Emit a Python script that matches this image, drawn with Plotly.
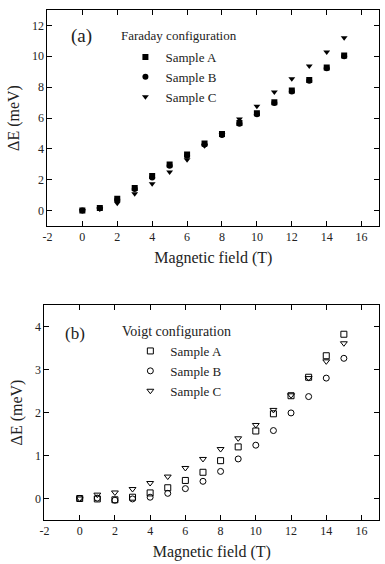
import plotly.graph_objects as go

field = list(range(16))

# Faraday configuration (meV)
far_A = [0.0, 0.17, 0.76, 1.46, 2.24, 2.98, 3.63, 4.35, 4.96, 5.68, 6.30, 7.02, 7.78, 8.46, 9.28, 10.05]
far_B = [0.0, 0.15, 0.70, 1.40, 2.15, 2.90, 3.55, 4.28, 4.90, 5.62, 6.25, 6.98, 7.72, 8.42, 9.22, 10.00]
far_C = [0.0, 0.10, 0.48, 1.09, 1.74, 2.50, 3.30, 4.20, 4.90, 5.93, 6.76, 7.68, 8.54, 9.37, 10.28, 11.20]

# Voigt configuration (meV)
voi_A = [0.0, -0.01, -0.03, 0.03, 0.13, 0.25, 0.42, 0.61, 0.88, 1.20, 1.57, 1.97, 2.39, 2.82, 3.32, 3.82]
voi_B = [0.0, 0.01, -0.04, -0.01, 0.03, 0.12, 0.23, 0.40, 0.63, 0.92, 1.24, 1.58, 1.99, 2.37, 2.80, 3.26]
voi_C = [0.0, 0.09, 0.14, 0.22, 0.36, 0.51, 0.71, 0.92, 1.15, 1.40, 1.71, 2.06, 2.40, 2.80, 3.19, 3.61]

samples = ["Sample A", "Sample B", "Sample C"]
x_ticks = [-2, 0, 2, 4, 6, 8, 10, 12, 14, 16]
x_labels = ["-2", "0", "2", "4", "6", "8", "10", "12", "14", "16"]
y_ticks_top = [0, 2, 4, 6, 8, 10, 12]
y_ticks_bot = [0, 1, 2, 3, 4]

FONT = "Times New Roman, Liberation Serif, DejaVu Serif, serif"
W, H = 385, 564

fig = go.Figure()

top_sym = ["square", "circle", "triangle-down"]
bot_sym = ["square-open", "circle-open", "triangle-down-open"]

for name, vals, sym in zip(samples, [far_A, far_B, far_C], top_sym):
    fig.add_trace(go.Scatter(x=field, y=vals, mode="markers", name=name,
                             marker=dict(symbol=sym, size=6, color="black"),
                             xaxis="x", yaxis="y", legend="legend"))

for name, vals, sym in zip(samples, [voi_A, voi_B, voi_C], bot_sym):
    fig.add_trace(go.Scatter(x=field, y=vals, mode="markers", name=name,
                             marker=dict(symbol=sym, size=6, color="black",
                                         line=dict(width=1, color="black")),
                             xaxis="x2", yaxis="y2", legend="legend2"))

def xa(domain, anchor):
    return dict(domain=domain, anchor=anchor, range=[-2, 17], tickvals=x_ticks, ticktext=x_labels,
                ticks="inside", ticklen=5, tickcolor="black", showline=True,
                linecolor="black", linewidth=1, mirror="allticks", showgrid=False,
                zeroline=False, tickfont=dict(family=FONT, size=12, color="#222"),
                title=dict(text="Magnetic field (T)", font=dict(family=FONT, size=16, color="#222"),
                           standoff=8))

def ya(domain, anchor, rng, ticks):
    return dict(domain=domain, anchor=anchor, range=rng, tickvals=ticks,
                ticks="inside", ticklen=5, tickcolor="black", showline=True,
                linecolor="black", linewidth=1, mirror="allticks", showgrid=False,
                zeroline=False, tickfont=dict(family=FONT, size=12, color="#222"),
                title=dict(text="ΔE (meV)", font=dict(family=FONT, size=16, color="#222"),
                           standoff=8))

top_dom = [(H - 226) / H, (H - 10) / H]
bot_dom = [(H - 520) / H, (H - 305) / H]

fig.update_layout(
    width=W, height=H, margin=dict(l=0, r=0, t=0, b=0),
    paper_bgcolor="white", plot_bgcolor="white",
    font=dict(family=FONT, color="#222"),
    xaxis=xa([43 / W, 379 / W], "y"),
    yaxis=ya(top_dom, "x", [-1, 13], y_ticks_top),
    xaxis2=xa([40 / W, 379 / W], "y2"),
    yaxis2=ya(bot_dom, "x2", [-0.5, 4.5], y_ticks_bot),
    legend=dict(x=122 / W, y=(H - 42) / H, xanchor="left", yanchor="top",
                bgcolor="rgba(0,0,0,0)", font=dict(family=FONT, size=13, color="#222"),
                itemwidth=30, tracegroupgap=0),
    legend2=dict(x=127 / W, y=(H - 336) / H, xanchor="left", yanchor="top",
                 bgcolor="rgba(0,0,0,0)", font=dict(family=FONT, size=13, color="#222"),
                 itemwidth=30, tracegroupgap=0),
    showlegend=True,
    annotations=[
        dict(text="(a)", x=78 / W, y=(H - 36) / H, xref="paper", yref="paper",
             xanchor="center", yanchor="middle",
             showarrow=False, font=dict(family=FONT, size=19, color="#222")),
        dict(text="Faraday configuration", x=115 / W, y=(H - 35) / H, xref="paper", yref="paper",
             xanchor="left", yanchor="middle",
             showarrow=False, font=dict(family=FONT, size=13, color="#222")),
        dict(text="(b)", x=71 / W, y=(H - 333) / H, xref="paper", yref="paper",
             xanchor="center", yanchor="middle",
             showarrow=False, font=dict(family=FONT, size=17, color="#222")),
        dict(text="Voigt configuration", x=117 / W, y=(H - 331) / H, xref="paper", yref="paper",
             xanchor="left", yanchor="middle",
             showarrow=False, font=dict(family=FONT, size=14, color="#222")),
    ],
)

fig.write_html("out.html")
